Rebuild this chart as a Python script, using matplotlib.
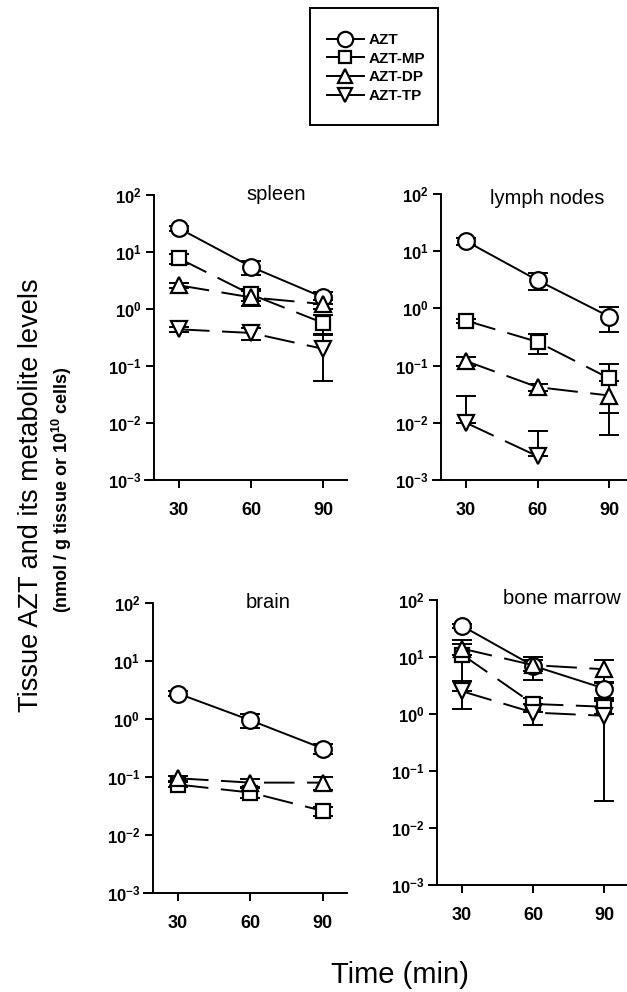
import numpy as np
import matplotlib
matplotlib.use('Agg')
import matplotlib.pyplot as plt
from matplotlib.lines import Line2D
from matplotlib.patches import Rectangle
from matplotlib.ticker import FixedLocator, FixedFormatter, NullLocator

plt.rcParams['font.family'] = ['Liberation Sans', 'DejaVu Sans']
plt.rcParams['font.weight'] = 'bold'
plt.rcParams['mathtext.fontset'] = 'custom'
plt.rcParams['mathtext.rm'] = 'Liberation Sans:bold'
plt.rcParams['mathtext.bf'] = 'Liberation Sans:bold'
plt.rcParams['mathtext.it'] = 'Liberation Sans:bold:italic'
plt.rcParams['lines.scale_dashes'] = False

# data
time = [30, 60, 90]
series = ['AZT', 'AZT-MP', 'AZT-DP', 'AZT-TP']
ytick_vals = [1e-3, 1e-2, 1e-1, 1e0, 1e1, 1e2]
ytick_labels = [r'$10^{-3}$', r'$10^{-2}$', r'$10^{-1}$', r'$10^{0}$', r'$10^{1}$', r'$10^{2}$']

# rows: AZT, AZT-MP, AZT-DP, AZT-TP
spleen_mean = [[26, 5.5, 1.6], [7.7, 1.8, 0.57], [2.6, 1.6, 1.22], [0.44, 0.38, 0.2]]
spleen_sd = [[3, 1.5, 0.4], [1.5, 0.4, 0.21], [0.3, 0.45, 0.2], [0.05, 0.09, 0.145]]

lymph_mean = [[15, 3.1, 0.72], [0.61, 0.26, 0.06], [0.12, 0.042, 0.03], [0.01, 0.0026, np.nan]]
lymph_sd = [[2, 1.0, 0.33], [0.05, 0.1, 0.045], [0.02, 0.006, 0.024], [0.019, 0.0047, np.nan]]

brain_mean = [[2.75, 0.95, 0.31], [0.074, 0.054, 0.026], [0.095, 0.08, 0.08], [np.nan] * 3]
brain_sd = [[0.3, 0.25, 0.06], [0.008, 0.01, 0.005], [0.01, 0.012, 0.02], [np.nan] * 3]

marrow_mean = [[35, 7.0, 2.8], [11, 1.5, 1.34], [14, 7.2, 6.1], [2.5, 1.06, 0.93]]
marrow_sd = [[3, 3.0, 0.9], [8.5, 0.4, 0.35], [3, 1.5, 2.6], [1.3, 0.43, 0.9]]

markers = ['o', 's', '^', 'v']
msizes = [12, 10, 11, 11]
solid = [True, False, False, False]

fig = plt.figure(figsize=(6.27, 9.92), dpi=100)
W, H = 627.0, 992.0

def make_ax(left, right, top, bottom):
    return fig.add_axes([left / W, 1 - bottom / H, (right - left) / W, (bottom - top) / H])

panels = [
    ('spleen', spleen_mean, spleen_sd, make_ax(145.4, 347, 195, 480), (0.65, 1.0)),
    ('lymph nodes', lymph_mean, lymph_sd, make_ax(432.6, 633, 194, 480), (0.57, 0.985)),
    ('brain', brain_mean, brain_sd, make_ax(144.2, 347, 603, 893), (0.61, 1.0)),
    ('bone marrow', marrow_mean, marrow_sd, make_ax(429, 628, 600, 885), (0.67, 1.005)),
]

for title, means, sds, ax, tpos in panels:
    for i in range(4):
        y = np.array(means[i], dtype=float)
        sd = np.array(sds[i], dtype=float)
        ok = np.isfinite(y)
        if not ok.any():
            continue
        x = np.array(time)[ok]
        y = y[ok]
        sd = sd[ok]
        lo = np.where(sd < y, sd, 0)
        ax.errorbar(x, y, yerr=[lo, sd], fmt='none', ecolor='k', elinewidth=1.4,
                    capsize=7, capthick=1.4, zorder=2)
        kw = dict(marker=markers[i], ms=msizes[i], color='k', mfc='white', mec='k',
                  mew=1.6, lw=1.4, zorder=3)
        if solid[i]:
            ax.plot(x, y, ls='-', **kw)
        else:
            ax.plot(x, y, ls='--', dashes=(22, 9), **kw)

    ax.set_yscale('log')
    ax.set_ylim(1e-3, 1e2)
    ax.set_xlim(16, 100)
    ax.yaxis.set_major_locator(FixedLocator(ytick_vals))
    ax.yaxis.set_major_formatter(FixedFormatter(ytick_labels))
    ax.yaxis.set_minor_locator(NullLocator())
    ax.set_xticks(time)
    ax.set_xticklabels([str(t) for t in time])
    ax.spines['top'].set_visible(False)
    ax.spines['right'].set_visible(False)
    ax.spines['left'].set_position(('data', 19.5))
    ax.spines['left'].set_linewidth(1.4)
    ax.spines['bottom'].set_linewidth(1.4)
    ax.tick_params(axis='both', direction='out', length=6, width=1.4)
    ax.tick_params(axis='x', labelsize=13, pad=10)
    ax.tick_params(axis='y', labelsize=12, pad=3)
    ax.text(tpos[0], tpos[1], title, transform=ax.transAxes, ha='center', va='center',
            fontsize=14.5, fontweight='normal')
    ax.patch.set_visible(False)

# axis labels
fig.text(31 / W, 1 - 495 / H, 'Tissue AZT and its metabolite levels', rotation=90,
         ha='center', va='center', fontsize=19.5, fontweight='normal')
fig.text(62 / W, 1 - 490 / H, r'(nmol / g tissue or 10$^{10}$ cells)', rotation=90,
         ha='center', va='center', fontsize=13, fontweight='bold')
fig.text(400 / W, 1 - 975 / H, 'Time (min)', ha='center', va='center', fontsize=21,
         fontweight='normal')

# legend
handles = [Line2D([], [], color='k', lw=1.4, marker=markers[i], ms=msizes[i] - 1,
                  mfc='white', mec='k', mew=1.6) for i in range(4)]
fig.legend(handles, series, loc='center left', bbox_to_anchor=(327 / W, 1 - 68 / H),
           frameon=False, borderpad=0, borderaxespad=0, handlelength=2.4,
           handletextpad=0.35, labelspacing=0.3, prop={'weight': 'bold', 'size': 11})
fig.add_artist(Rectangle((310 / W, 1 - 125 / H), 128 / W, 117 / H, transform=fig.transFigure,
                         fill=False, lw=1.4, ec='k'))

fig.savefig('out.png', dpi=100)
